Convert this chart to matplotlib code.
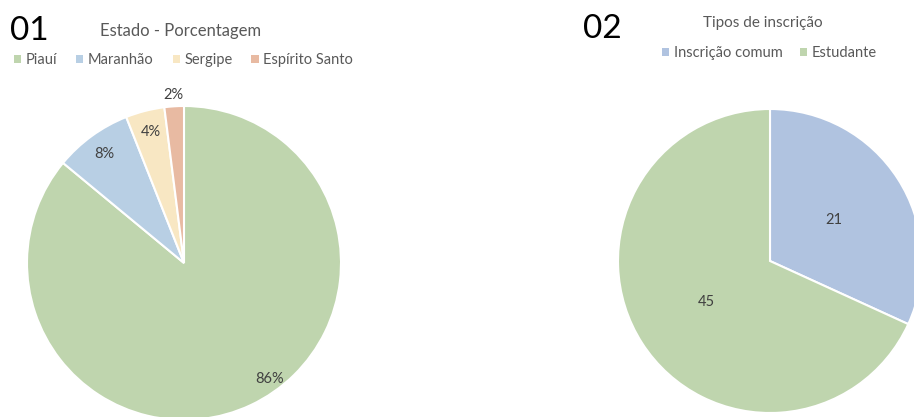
import matplotlib.pyplot as plt
from matplotlib.patches import Patch

plt.rcParams['font.family'] = ['Lato', 'DejaVu Sans']

# Chart 01 - state share
estados = ['Piauí', 'Maranhão', 'Sergipe', 'Espírito Santo']
estado_pct = [86, 8, 4, 2]
estado_cores = ['#bfd5ae', '#b8cfe4', '#f8e7c3', '#e8baa2']

# Chart 02 - registration type
tipos = ['Inscrição comum', 'Estudante']
tipo_qtd = [21, 45]
tipo_cores = ['#b0c3e0', '#bfd5ae']

W, H = 914, 417
fig = plt.figure(figsize=(W / 100, H / 100), dpi=100)
ax = fig.add_axes([0, 0, 1, 1])

label_color = '#404040'
grey = '#595959'

# left pie
c1 = (184, H - 263)
r1 = 157
w1, _, t1 = ax.pie(estado_pct, colors=estado_cores, startangle=90, counterclock=False,
                   center=c1, radius=r1, autopct='%d%%', pctdistance=0.86,
                   wedgeprops=dict(edgecolor='white', linewidth=1.5),
                   textprops=dict(color=label_color, fontsize=10.5), frame=True)
# Excel best-fit placements for the big slice and the tiny outside one
t1[0].set_position((c1[0] + 86, c1[1] - 116))
t1[3].set_position((c1[0] - 11, c1[1] + 168))

# right pie
c2 = (770, H - 261)
r2 = 152
w2, _, t2 = ax.pie(tipo_qtd, colors=tipo_cores, startangle=90, counterclock=False,
                   center=c2, radius=r2, autopct=lambda p: f'{p * sum(tipo_qtd) / 100:.0f}',
                   pctdistance=0.5,
                   wedgeprops=dict(edgecolor='white', linewidth=1.5),
                   textprops=dict(color=label_color, fontsize=10.5), frame=True)
ax.set_xlim(0, W)
ax.set_ylim(0, H)
ax.set_aspect('equal')
ax.axis('off')

# headers
fig.text(10 / W, 1 - 31 / H, '01', fontsize=24, color='black', va='center', ha='left')
fig.text(583 / W, 1 - 29 / H, '02', fontsize=24, color='black', va='center', ha='left')
fig.text(100 / W, 1 - 31 / H, 'Estado - Porcentagem', fontsize=12, color=grey, va='center', ha='left')
fig.text(763 / W, 1 - 23 / H, 'Tipos de inscrição', fontsize=11, color=grey, va='center', ha='center')

# legends
h1 = [Patch(facecolor=c, edgecolor='none', label=l) for c, l in zip(estado_cores, estados)]
leg1 = fig.legend(handles=h1, ncol=4, loc='center left', bbox_to_anchor=(14 / W, 1 - 60 / H),
                  frameon=False, fontsize=10.5, handlelength=0.5, handleheight=0.5,
                  handletextpad=0.3, columnspacing=1.3, borderpad=0, borderaxespad=0)
for t in leg1.get_texts():
    t.set_color(grey)

h2 = [Patch(facecolor=c, edgecolor='none', label=l) for c, l in zip(tipo_cores, tipos)]
leg2 = fig.legend(handles=h2, ncol=2, loc='center left', bbox_to_anchor=(662 / W, 1 - 53 / H),
                  frameon=False, fontsize=10.5, handlelength=0.5, handleheight=0.5,
                  handletextpad=0.3, columnspacing=1.2, borderpad=0, borderaxespad=0)
for t in leg2.get_texts():
    t.set_color(grey)

fig.savefig('out.png', dpi=100)
